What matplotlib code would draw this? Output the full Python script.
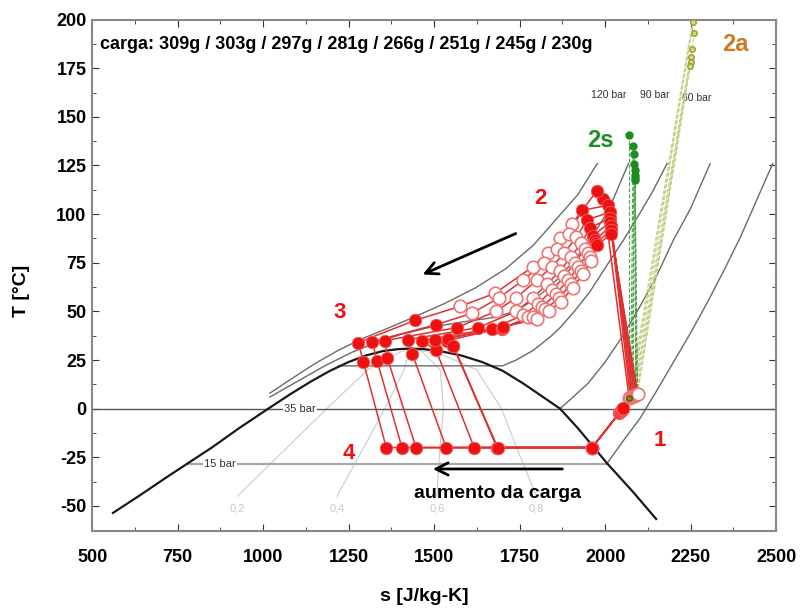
import matplotlib.pyplot as plt
import numpy as np

plt.rcParams['font.family'] = ['Liberation Sans', 'DejaVu Sans']
plt.rcParams['axes.unicode_minus'] = False

# saturation dome
dome_s = [561, 640, 720, 778, 850, 930, 1015, 1080, 1140, 1196, 1250, 1300, 1350, 1395, 1430,
          1470, 1520, 1580, 1640, 1700, 1760, 1810, 1868, 1920, 1965, 2005, 2080, 2149]
dome_T = [-53.6, -44.5, -35, -28.3, -20, -10, 0, 7.5, 14, 19.5, 24, 27.3, 29.6, 30.6, 30.9,
          30.6, 29.5, 27.3, 24, 19.5, 13, 7, 0, -10, -19.5, -28, -42.5, -56.7]

# isobars
iso120_s = [1020, 1080, 1150, 1220, 1290, 1360, 1440, 1530, 1620, 1710, 1790, 1860, 1920, 1977]
iso120_T = [8, 15, 23, 30, 36, 41, 47, 54, 62, 72, 84, 98, 110, 126]
iso90_s = [1020, 1100, 1180, 1260, 1330, 1400, 1480, 1580, 1680, 1743, 1800, 1870, 1950, 2010, 2068]
iso90_T = [6, 14, 22, 29, 34, 38, 41.5, 44.5, 47, 50.5, 57, 68, 85, 102, 126]
iso60_s = [1220, 1700, 1740, 1790, 1840, 1868, 1910, 1955, 2010, 2053, 2100, 2140, 2181]
iso60_T = [22, 22, 25, 30, 37, 41.6, 50, 60, 75, 86.5, 100, 112, 126]
iso35_s = [1868, 1900, 1950, 2000, 2050, 2100, 2150, 2199, 2250, 2307]
iso35_T = [0, 5, 13, 24, 37, 52, 68, 86.5, 103, 126]
iso15_s = [778, 2005, 2053, 2102, 2150, 2200, 2250, 2300, 2350, 2395, 2440, 2490]
iso15_T = [-28.3, -28.3, -16.5, -5, 9, 24, 39, 55, 72, 88, 106, 126]

# vapour quality lines
q_labels = ['0,2', '0,4', '0,6', '0,8']
q_s = [[925, 1070, 1186, 1306, 1400, 1430],
       [1216, 1294, 1356, 1412, 1430],
       [1508, 1517, 1527, 1518, 1460, 1430],
       [1799, 1741, 1697, 1624, 1520, 1430]]
q_T = [[-45, -20, 0, 20, 29, 30.8],
       [-45, -20, 0, 20, 30.8],
       [-45, -20, 0, 20, 30, 30.8],
       [-45, -20, 0, 20, 28, 30.8]]

# cycles (one per charge)
charges = ['309g', '303g', '297g', '281g', '266g', '251g', '245g', '230g']
suc_s = [2070, 2074, 2078, 2082, 2086, 2090, 2093, 2095]
suc_T = [5.6, 5.8, 6.0, 6.4, 6.8, 7.1, 7.4, 7.6]
p1_s = [2041, 2043, 2045, 2047, 2049, 2050, 2051, 2052]
p1_T = [-2.2, -1.8, -1.4, -1.0, -0.6, -0.3, 0.0, 0.2]
evap_s = 1962
evap_T = -20
dis_s = [1995, 2009, 2013, 2015, 2015, 2016, 2017, 2018]
dis_T = [108, 104.5, 101, 98, 96, 94, 92, 90]
gin_s = [1976, 1933, 1947, 1956, 1965, 1971, 1974, 1977]
gin_T = [112, 102, 97, 93, 89, 86.5, 85, 84]
open_s = [[1903, 1868, 1833, 1789, 1678, 1576],
          [1895, 1860, 1820, 1760, 1690, 1610],
          [1915, 1880, 1845, 1800, 1740, 1680],
          [1930, 1900, 1868, 1830, 1790, 1740],
          [1940, 1912, 1880, 1845, 1805, 1760],
          [1950, 1922, 1892, 1855, 1815, 1775],
          [1955, 1930, 1900, 1865, 1825, 1790],
          [1960, 1935, 1905, 1870, 1835, 1800]]
open_T = [[95, 87.5, 80, 73, 59.3, 52.6],
          [90, 82, 75, 66, 57, 49],
          [88, 80, 73, 66, 57, 50],
          [85, 78, 71, 64, 57, 50],
          [82, 75, 68, 61, 54, 48],
          [80, 73, 66, 59, 52, 47],
          [78, 71, 64, 57, 51, 47],
          [76, 69, 62, 55, 50, 46]]
gout_s = [1444, 1506, 1567, 1629, 1669, 1699, 1700, 1702]
gout_T = [45.4, 43.2, 41.7, 41.7, 41.2, 41.2, 41.5, 42]
p3_s = [1278, 1319, 1357, 1424, 1465, 1503, 1538, 1540]
p3_T = [34, 34.5, 35, 35.5, 35, 35.5, 35, 36]
p3b_s = [1293, 1333, 1363, 1436, 1506, 1556, 1556, 1556]
p3b_T = [24.1, 24.7, 26.2, 28.3, 29.9, 32.4, 32.4, 32]
p4_s = [1360, 1406, 1447, 1535, 1617, 1684, 1684, 1686]
p4_T = -20
s2s_s = [2070, 2082, 2085, 2085, 2086, 2086, 2087, 2087]
s2s_T = [140.5, 135, 130.7, 126, 122.5, 120, 118.5, 117.5]
s2a_s = [2266, 2263, 2258, 2261, 2254, 2252, 2250, 2248]
s2a_T = [210, 205, 199, 193, 185, 181, 178, 176]

red = '#ee1111'
line_red = '#e03030'
open_red = '#ec7474'

fig = plt.figure(figsize=(8.01, 6.12), dpi=100)
ax = fig.add_axes([0.115, 0.132, 0.854, 0.836])

# background lines
ax.plot(dome_s, dome_T, color='#1a1a1a', lw=1.6, zorder=3)
for s, T in [(iso120_s, iso120_T), (iso90_s, iso90_T), (iso60_s, iso60_T), (iso35_s, iso35_T)]:
    ax.plot(s, T, color='#6a6a6a', lw=1.0, zorder=2)
ax.plot(iso15_s[1:], iso15_T[1:], color='#6a6a6a', lw=1.0, zorder=2)
ax.plot(iso15_s[:2], iso15_T[:2], color='#a8a8a8', lw=1.6, zorder=2)
ax.axhline(0, color='#555555', lw=1.0, zorder=2)
ax.text(1108, 0, '35 bar', fontsize=8, color='#333333', ha='center', va='center',
        bbox=dict(facecolor='white', edgecolor='none', pad=1), zorder=3)
ax.text(874, -28.3, '15 bar', fontsize=8, color='#333333', ha='center', va='center',
        bbox=dict(facecolor='white', edgecolor='none', pad=1), zorder=3)
ax.text(2009, 161, '120 bar', fontsize=7.5, color='#333333', ha='center', va='center')
ax.text(2146, 161, '90 bar', fontsize=7.5, color='#333333', ha='center', va='center')
ax.text(2269, 159.6, '60 bar', fontsize=7.5, color='#333333', ha='center', va='center')

for lab, s, T in zip(q_labels, q_s, q_T):
    ax.plot(s, T, color='#d0d0d0', lw=0.9, zorder=1)
    ax.text(s[0], -51.5, lab, fontsize=8, color='#c8c8c8', ha='center', va='center')

# isentropic / actual compression end points
for i in range(len(charges)):
    ax.plot([suc_s[i], s2s_s[i]], [suc_T[i], s2s_T[i]], color='#4fa34f', lw=0.8, ls='--', zorder=4)
    ax.plot([suc_s[i], s2a_s[i]], [suc_T[i], s2a_T[i]], color='#c3cf86', lw=0.8, ls='--', zorder=4)
ax.plot(s2s_s, s2s_T, 'o', color='#1e8c1e', ms=5, zorder=5)
ax.plot(s2a_s, s2a_T, 'o', mfc='#d6d68a', mec='#9a9a2a', ms=4, zorder=5)

# measured cycles
for i in range(len(charges)):
    path_s = ([suc_s[i], dis_s[i], gin_s[i]] + open_s[i] +
              [gout_s[i], p3_s[i], p3b_s[i], p4_s[i], evap_s, p1_s[i], suc_s[i]])
    path_T = ([suc_T[i], dis_T[i], gin_T[i]] + open_T[i] +
              [gout_T[i], p3_T[i], p3b_T[i], p4_T, evap_T, p1_T[i], suc_T[i]])
    ax.plot(path_s, path_T, color=line_red, lw=1.1, zorder=6)
    ax.plot(open_s[i], open_T[i], 'o', mfc='white', mec=open_red, mew=1.2, ms=9, zorder=7)
    ax.plot([suc_s[i]], [suc_T[i]], 'o', mfc='white', mec=open_red, mew=1.2, ms=9, zorder=7)
    solid_s = [dis_s[i], gin_s[i], gout_s[i], p3_s[i], p3b_s[i], p4_s[i], evap_s, p1_s[i]]
    solid_T = [dis_T[i], gin_T[i], gout_T[i], p3_T[i], p3b_T[i], p4_T, evap_T, p1_T[i]]
    ax.plot(solid_s, solid_T, 'o', color=red, mec='#f06060', mew=0.6, ms=9, zorder=8)
ax.plot([suc_s[0]], [suc_T[0]], 'o', mfc='#8a8a1a', mec='#5a5a10', ms=4, zorder=9)

# labels
lab_kw = dict(fontsize=16, fontweight='bold', color=red, ha='center', va='center', zorder=10)
ax.text(1810, 108, '2', **lab_kw)
ax.text(1225, 49.5, '3', **lab_kw)
ax.text(1251, -22.8, '4', **lab_kw)
ax.text(2161, -16.5, '1', **lab_kw)
ax.text(1985, 138, '2s', fontsize=17, fontweight='bold', color='#1e8c1e', ha='center', va='center')
ax.text(2380, 187, '2a', fontsize=17, fontweight='bold', color='#cc7a22', ha='center', va='center')
ax.text(523, 187, 'carga: ' + ' / '.join(charges), fontsize=13, fontweight='bold',
        ha='left', va='center')
ax.text(1684, -43.5, 'aumento da carga', fontsize=14, fontweight='bold', ha='center', va='center')

ax.annotate('', xy=(1459, 68.4), xytext=(1746, 90.6),
            arrowprops=dict(arrowstyle='->', color='black', lw=2, mutation_scale=22))
ax.annotate('', xy=(1488, -31), xytext=(1883, -31),
            arrowprops=dict(arrowstyle='->', color='black', lw=2, mutation_scale=22))

ax.set_xlim(500, 2500)
ax.set_ylim(-63, 200)
ax.set_xticks(np.arange(500, 2501, 250))
ax.set_xticks(np.arange(500, 2501, 125), minor=True)
ax.set_yticks(np.arange(-50, 201, 25))
ax.set_yticks(np.arange(-62.5, 201, 12.5), minor=True)
ax.tick_params(which='both', direction='in', top=True, right=True, color='#333333')
ax.tick_params(which='major', length=5, labelsize=13)
ax.tick_params(axis='x', which='major', pad=13)
ax.tick_params(axis='y', which='major', pad=4)
ax.tick_params(which='minor', length=3)
for lbl in ax.get_xticklabels() + ax.get_yticklabels():
    lbl.set_fontweight('bold')
for sp in ax.spines.values():
    sp.set_color('#888888')
    sp.set_linewidth(1.5)
fig.text(0.53, 0.025, 's [J/kg-K]', fontsize=14, fontweight='bold', ha='center', va='center')
fig.text(0.027, 0.524, 'T [°C]', fontsize=14, fontweight='bold', ha='center', va='center',
         rotation=90)

fig.savefig('out.png', dpi=100)
